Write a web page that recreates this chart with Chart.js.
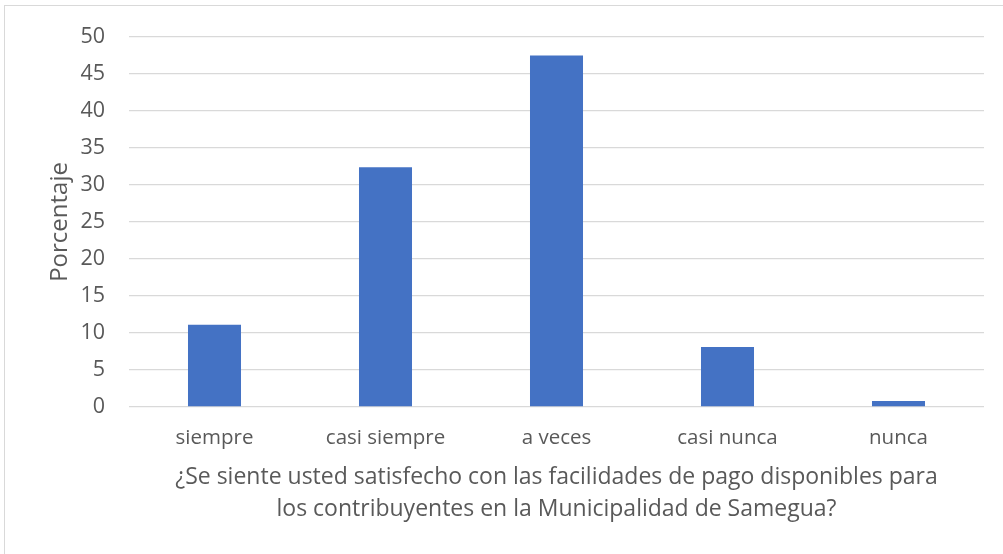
<!DOCTYPE html>
<html>
<head>
<meta charset="utf-8">
<script src="https://cdn.jsdelivr.net/npm/chart.js@4/dist/chart.umd.min.js"></script>
<style>
  html, body { margin: 0; padding: 0; background: #ffffff; }
  #wrap { width: 1003px; height: 554px; position: relative; }
</style>
</head>
<body>
<div id="wrap"><canvas id="c" width="1003" height="554"></canvas></div>
<script>
const categories = ["siempre", "casi siempre", "a veces", "casi nunca", "nunca"];
const percentages = [11.1, 32.4, 47.5, 8.1, 0.8];
const yTitle = "Porcentaje";
const xTitle = ["¿Se siente usted satisfecho con las facilidades de pago disponibles para", "los contribuyentes en la Municipalidad de Samegua?"];

const FONT = "'Open Sans', sans-serif";
const TXT = "#595959";

const framePlugin = {
  id: 'frame',
  beforeDraw(chart) {
    const ctx = chart.ctx;
    ctx.save();
    ctx.fillStyle = '#ffffff';
    ctx.fillRect(0, 0, chart.width, chart.height);
    ctx.strokeStyle = '#d9d9d9';
    ctx.lineWidth = 1;
    ctx.strokeRect(4.5, 5.5, 1010, 560);
    ctx.restore();
  }
};

new Chart(document.getElementById('c'), {
  type: 'bar',
  data: {
    labels: categories,
    datasets: [{
      label: yTitle,
      data: percentages,
      backgroundColor: '#4472C4',
      borderWidth: 0,
      categoryPercentage: 1,
      barPercentage: 0.31
    }]
  },
  options: {
    responsive: false,
    animation: false,
    devicePixelRatio: 1,
    layout: { padding: { left: 46, right: 19, top: 36, bottom: 29 } },
    plugins: { legend: { display: false }, tooltip: { enabled: false } },
    scales: {
      x: {
        grid: { display: false, drawTicks: false },
        border: { display: false },
        ticks: { color: TXT, font: { family: FONT, size: 20.5 }, padding: 19, maxRotation: 0 },
        title: { display: true, text: xTitle, color: TXT, font: { family: FONT, size: 23, lineHeight: 1.39 }, padding: { top: 0, bottom: 0 } },
        afterFit(s) { s.height = 118; }
      },
      y: {
        min: 0, max: 50,
        grid: { color: '#d9d9d9', lineWidth: 1.3, drawTicks: false },
        border: { display: false },
        ticks: { stepSize: 5, color: TXT, font: { family: FONT, size: 21.5 }, padding: 24 },
        title: { display: true, text: yTitle, color: TXT, font: { family: FONT, size: 24, lineHeight: 1.2 }, padding: { top: 0, bottom: 0 } },
        afterFit(s) { s.width = 83; }
      }
    }
  },
  plugins: [framePlugin]
});
</script>
</body>
</html>
